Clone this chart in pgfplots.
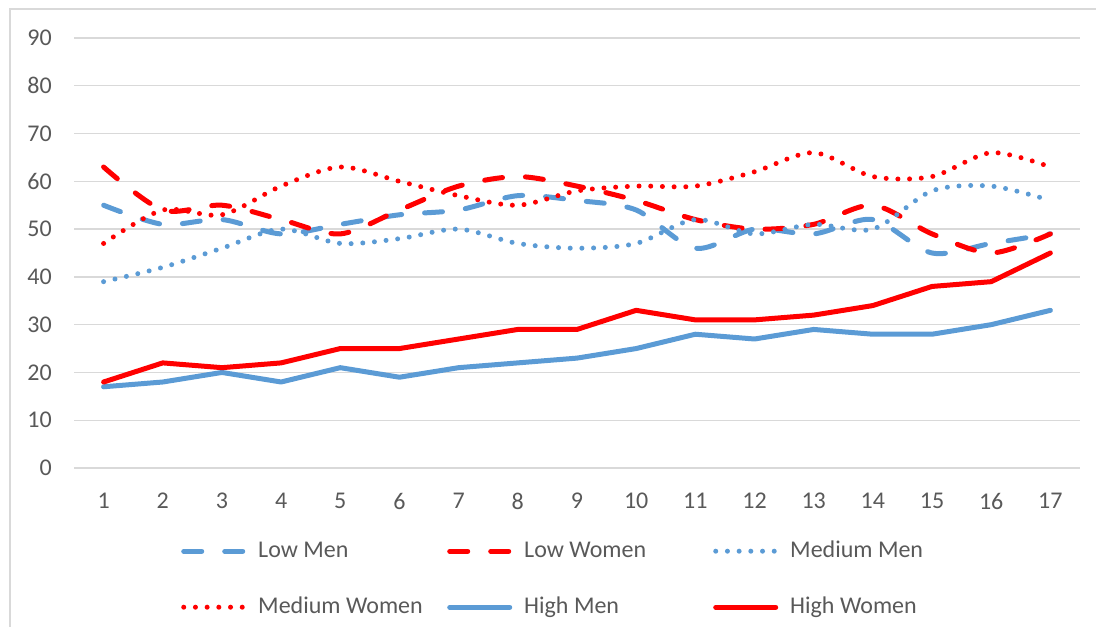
\documentclass[border=0pt]{standalone}
\usepackage{pgfplots}
\pgfplotsset{compat=1.18}
\usepackage{fontspec}
\setmainfont{Carlito}

\definecolor{menblue}{HTML}{5B9BD5}
\definecolor{womenred}{HTML}{FF0000}
\definecolor{txtgray}{HTML}{595959}
\definecolor{gridgray}{HTML}{D9D9D9}

\newcommand{\legtxt}[1]{\makebox[189pt][l]{#1}}

\begin{document}
\begin{tikzpicture}[x=1pt,y=1pt]
\path[use as bounding box, clip] (0,0) rectangle (1096,627);
\draw[gridgray, line width=1.2pt] (10,-20) rectangle (1130,618);
\begin{axis}[
    at={(74pt,159pt)}, anchor=south west,
    scale only axis,
    width=1006pt, height=430pt,
    xmin=0.5, xmax=17.5,
    ymin=0, ymax=90,
    xtick={1,...,17},
    ytick={0,10,...,90},
    major tick length=0pt,
    axis line style={draw=none},
    ymajorgrids,
    major grid style={draw=gridgray, line width=1.3pt},
    font=\fontsize{24}{29}\selectfont,
    tick label style={text=txtgray, inner sep=0pt},
    /pgf/number format/assume math mode=true,
    yticklabel style={anchor=east, xshift=-22pt},
    xticklabel style={anchor=north, yshift=-25pt},
    legend columns=3,
    legend style={at={(0.1064,-0.1651)}, anchor=north west, draw=none, fill=none,
        inner sep=0pt, row sep=32pt, text=txtgray,
        nodes={inner sep=0pt, text height=18pt, text depth=6pt},
        /tikz/every odd column/.append style={column sep=12pt}},
    legend image code/.code={\draw[#1] (0pt,0pt) -- (60pt,0pt);},
    every axis plot/.append style={line width=5pt, line cap=round, line join=round},
]
% Low Men
\addplot[menblue, dash pattern=on 18pt off 23pt, smooth, tension=0.5] coordinates {
(1,55) (2,51) (3,52) (4,49) (5,51) (6,53) (7,54) (8,57) (9,56)
(10,54) (11,46) (12,50) (13,49) (14,52) (15,45) (16,47) (17,49)};
\addlegendentry{\legtxt{Low Men}}
% Low Women
\addplot[womenred, dash pattern=on 18pt off 23pt, smooth, tension=0.5] coordinates {
(1,63) (2,54) (3,55) (4,52) (5,49) (6,54) (7,59) (8,61) (9,59)
(10,56) (11,52) (12,50) (13,51) (14,55) (15,49) (16,45) (17,49)};
\addlegendentry{\legtxt{Low Women}}
% Medium Men
\addplot[menblue, dash pattern=on 0pt off 11.7pt, smooth, tension=0.5] coordinates {
(1,39) (2,42) (3,46) (4,50) (5,47) (6,48) (7,50) (8,47) (9,46)
(10,47) (11,52) (12,49) (13,51) (14,50) (15,58) (16,59) (17,56)};
\addlegendentry{\legtxt{Medium Men}}
% Medium Women
\addplot[womenred, dash pattern=on 0pt off 11.7pt, smooth, tension=0.5] coordinates {
(1,47) (2,54) (3,53) (4,59) (5,63) (6,60) (7,57) (8,55) (9,58)
(10,59) (11,59) (12,62) (13,66) (14,61) (15,61) (16,66) (17,63)};
\addlegendentry{\legtxt{Medium Women}}
% High Men
\addplot[menblue] coordinates {
(1,17) (2,18) (3,20) (4,18) (5,21) (6,19) (7,21) (8,22) (9,23)
(10,25) (11,28) (12,27) (13,29) (14,28) (15,28) (16,30) (17,33)};
\addlegendentry{\legtxt{High Men}}
% High Women
\addplot[womenred] coordinates {
(1,18) (2,22) (3,21) (4,22) (5,25) (6,25) (7,27) (8,29) (9,29)
(10,33) (11,31) (12,31) (13,32) (14,34) (15,38) (16,39) (17,45)};
\addlegendentry{\legtxt{High Women}}
\end{axis}
\end{tikzpicture}
\end{document}
